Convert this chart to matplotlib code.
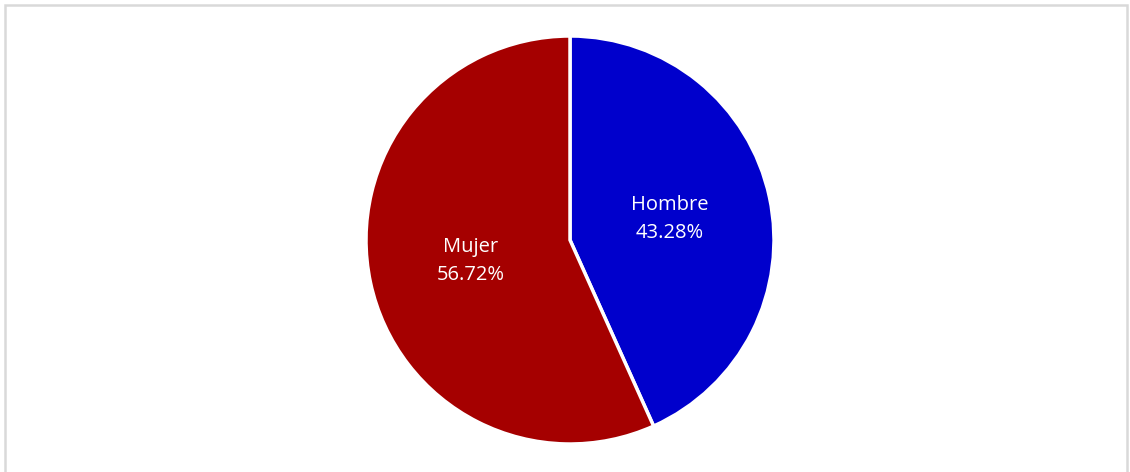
import matplotlib
matplotlib.use("Agg")
import matplotlib.pyplot as plt
from matplotlib.patches import Rectangle
import numpy as np

categories = ["Hombre", "Mujer"]
values = [43.28, 56.72]
colors = ["#0000CC", "#A50000"]

W, H = 1130, 472
fig = plt.figure(figsize=(W / 100, H / 100), dpi=100)
fig.patch.set_facecolor("white")

# border
fig.add_artist(Rectangle((4.5 / W, -0.1), (1127 - 4.5) / W, (H - 5) / H + 0.1,
                         transform=fig.transFigure, fill=False, edgecolor="#D9D9D9", linewidth=1.8))

cx, cy, r = 570, 240, 204
ax = fig.add_axes([(cx - r) / W, (H - cy - r) / H, 2 * r / W, 2 * r / H])
wedges, texts = ax.pie(values, colors=colors, startangle=90, counterclock=False, radius=1,
                       wedgeprops=dict(edgecolor="white", linewidth=2.5))
cum = 0
for cat, v in zip(categories, values):
    mid = 90 - (cum + v / 2) * 3.6
    cum += v
    x = 0.5 * np.cos(np.radians(mid))
    y = 0.5 * np.sin(np.radians(mid))
    ax.text(x, y, f"{cat}\n{v:.2f}%", ha="center", va="center", color="white",
            fontsize=14.5, family=["Open Sans", "DejaVu Sans"], linespacing=1.55)
ax.set_xlim(-1, 1)
ax.set_ylim(-1, 1)
ax.set_aspect("equal")
ax.axis("off")

fig.savefig("out.png", dpi=100)
